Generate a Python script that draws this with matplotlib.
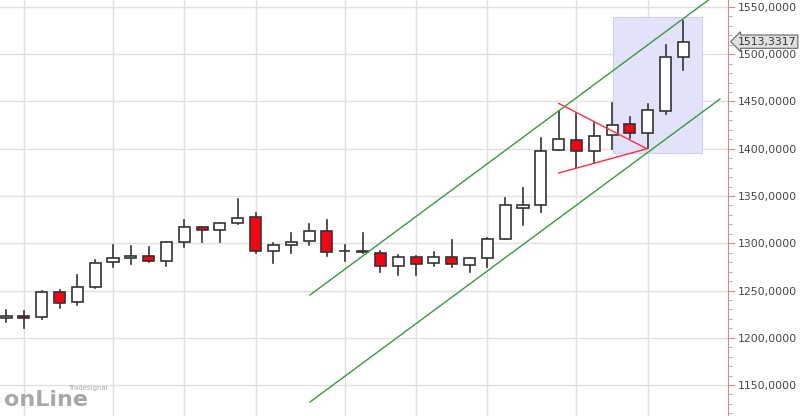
import matplotlib
matplotlib.use("Agg")
import matplotlib.pyplot as plt
from matplotlib.patches import Rectangle
from matplotlib.ticker import MultipleLocator, FuncFormatter

opens  = [1221,1223,1222,1248,1238,1254,1280,1284,1287,1281,1301,1317,1314,1321,1328,1292,1298,1302,1313,1291.4,1292,
          1290,1276,1285,1279,1285,1277,1284,1305,1337,1341,1399,1409,1398,1415,1426,1417,1440,1497]
closes = [1223,1221,1248,1237,1254,1279,1284,1287,1281,1301,1317,1314,1321,1327,1292,1298,1301,1313,1291,1291.6,1291,
          1276,1285,1278,1285,1278,1284,1305,1340,1341,1398,1410,1398,1414,1425,1417,1441,1497,1513.3]
highs  = [1229,1228,1249,1250.5,1266,1282,1298,1297,1296,1301,1325,1317.5,1321,1347,1332,1300,1311,1320,1324.6,1298,1311,
          1291.5,1288,1286.5,1290.4,1303.4,1284,1306,1347.6,1358,1411,1439.6,1436.5,1427,1448,1433.3,1447,1510,1535.2]
lows   = [1216.7,1210.6,1220,1232,1234.7,1253,1275,1278.4,1280,1276.3,1296.4,1301.7,1301.7,1320,1290,1279.5,1290,1297.8,1286,1281,1289.5,
          1270,1266,1266,1275.6,1274.5,1269.3,1274.5,1305,1319,1332.7,1398.4,1381,1385.2,1399.4,1411,1400.5,1436.5,1483]
upper_channel = ([17.05, 39.4], [1245.2, 1557.4])
lower_channel = ([17.05, 40.05], [1132.0, 1452.6])
red_upper = ([31.0, 35.95], [1448.0, 1400.0])
red_lower = ([31.0, 35.95], [1374.3, 1400.0])
box = (34.04, 1395.2, 5.0, 143.9)
last_price = 1513.3317
grid_idx = [1, 6, 10, 14, 19, 23, 27, 32, 36]

fig = plt.figure(figsize=(8, 4.16), dpi=100)
ax = fig.add_axes([0, 0, 0.91, 1])
ax.set_xlim(-0.34, 40.5)
ax.set_ylim(1117.2, 1557.4)

for gx in grid_idx:
    ax.axvline(gx, color='#e0e0e0', lw=1, zorder=0)
for gy in range(1150, 1551, 50):
    ax.axhline(gy, color='#e0e0e0', lw=1, zorder=0)

ax.add_patch(Rectangle((box[0], box[1]), box[2], box[3], facecolor='#e2e2fb', edgecolor='#d0d0f5', lw=0.8, zorder=1))

w = 0.62
for i, (o, c, h, l) in enumerate(zip(opens, closes, highs, lows)):
    ax.plot([i, i], [l, h], color='#333333', lw=1.2, zorder=2)
    fc = 'white' if c >= o else '#ff0010'
    b = min(o, c); hgt = max(abs(c - o), 0.6)
    ax.add_patch(Rectangle((i - w/2, b), w, hgt, facecolor=fc, edgecolor='#333333', lw=1.2, zorder=3))

for xs, ys in (upper_channel, lower_channel):
    ax.plot(xs, ys, color='#3a9a3a', lw=1, zorder=4)
for xs, ys in (red_upper, red_lower):
    ax.plot(xs, ys, color='#ff3040', lw=1, zorder=4)

ax.yaxis.tick_right()
ax.yaxis.set_major_locator(MultipleLocator(50))
ax.yaxis.set_minor_locator(MultipleLocator(10))
ax.yaxis.set_major_formatter(FuncFormatter(lambda v, p: f"{v:.4f}".replace('.', ',')))
ax.tick_params(axis='y', which='major', length=5, color='#c89090', labelsize=7.8, labelcolor='#444444', pad=2)
ax.tick_params(axis='y', which='minor', length=3, color='#c89090')
ax.tick_params(axis='x', bottom=False, labelbottom=False)
for s in ('top', 'left', 'bottom'):
    ax.spines[s].set_visible(False)
ax.spines['right'].set_color('#c89090')

ax.annotate(f"{last_price:.4f}".replace('.', ','), xy=(1.0, last_price), xycoords=('axes fraction', 'data'),
            xytext=(7, 0), textcoords='offset points', va='center', ha='left', fontsize=7.8, color='#333333',
            bbox=dict(boxstyle='larrow,pad=0.15', fc='#e0e0e0', ec='#666666', lw=0.8), annotation_clip=False)

fig.text(0.005, 0.015, "onLine", fontsize=16, fontweight='bold', color='#a8a8a8', ha='left', va='bottom')
fig.text(0.085, 0.06, "Tradesignal", fontsize=5, color='#a8a8a8', ha='left', va='bottom')

fig.savefig("out.png", dpi=100, facecolor='white')
